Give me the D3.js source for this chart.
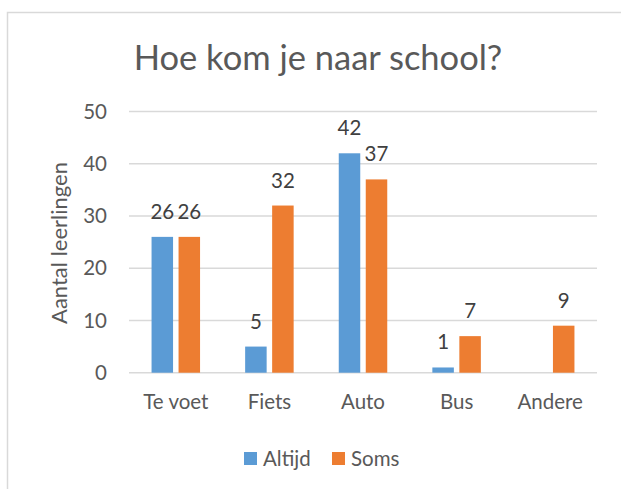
<!DOCTYPE html>
<html>
<head>
<meta charset="utf-8">
<script src="https://cdn.jsdelivr.net/npm/d3@7"></script>
<style>
  body { margin: 0; background: #fff; }
  svg text { font-family: Lato, "Open Sans", sans-serif; }
</style>
</head>
<body>
<div id="chart-area"></div>
<script>
// data
var categories = ["Te voet", "Fiets", "Auto", "Bus", "Andere"];
var series = ["Altijd", "Soms"];
var altijd = [26, 5, 42, 1, null];
var soms = [26, 32, 37, 7, 9];
var yTicks = [0, 10, 20, 30, 40, 50];

var colors = { Altijd: "#5B9BD5", Soms: "#ED7D31" };

var W = 621, H = 489;
var plot = { left: 129, right: 597, top: 111.5, bottom: 372.7 };
var fs = "20.5px";

var svg = d3.select("#chart-area")
    .append("svg")
        .attr("width", W)
        .attr("height", H);

// chart frame (only top and left edges fall inside the window)
svg.append("rect")
    .attr("x", 7.5).attr("y", 12.5)
    .attr("width", 700).attr("height", 600)
    .attr("fill", "none")
    .attr("stroke", "#D9D9D9")
    .attr("stroke-width", 1.5);

// Scales
var x = d3.scaleBand()
    .domain(categories)
    .range([plot.left, plot.right]);
var xSub = d3.scaleBand()
    .domain(series)
    .range([-24.25, 24.25])
    .paddingInner(0.2037);
var y = d3.scaleLinear()
    .domain([0, 50])
    .range([plot.bottom, plot.top]);

// gridlines
svg.append("g")
    .selectAll("line")
    .data(yTicks)
    .enter().append("line")
        .attr("x1", plot.left)
        .attr("x2", plot.right)
        .attr("y1", function(d){ return y(d); })
        .attr("y2", function(d){ return y(d); })
        .attr("stroke", "#D9D9D9")
        .attr("stroke-width", 1.4);

// Y Axis
var yAxisCall = d3.axisLeft(y)
    .tickValues(yTicks)
    .tickSize(0)
    .tickPadding(22);
var yAxis = svg.append("g")
    .attr("transform", "translate(" + plot.left + ",0)")
    .call(yAxisCall);
yAxis.select(".domain").remove();
yAxis.selectAll("text")
    .attr("font-family", "Lato, sans-serif")
    .attr("font-size", fs)
    .attr("fill", "#595959");

// X Axis
var xAxisCall = d3.axisBottom(x).tickSize(0).tickPadding(22);
var xAxis = svg.append("g")
    .attr("transform", "translate(0," + plot.bottom + ")")
    .call(xAxisCall);
xAxis.select(".domain").remove();
xAxis.selectAll("text")
    .attr("font-family", "Lato, sans-serif")
    .attr("font-size", fs)
    .attr("fill", "#595959");

// bars
var rows = [];
categories.forEach(function(c, i){
    rows.push({ cat: c, s: "Altijd", v: altijd[i] });
    rows.push({ cat: c, s: "Soms", v: soms[i] });
});
rows = rows.filter(function(d){ return d.v !== null; });

var barG = svg.append("g");
barG.selectAll("rect")
    .data(rows)
    .enter().append("rect")
        .attr("x", function(d){ return x(d.cat) + x.bandwidth() / 2 + xSub(d.s); })
        .attr("y", function(d){ return y(d.v); })
        .attr("width", xSub.bandwidth())
        .attr("height", function(d){ return y(0) - y(d.v); })
        .attr("fill", function(d){ return colors[d.s]; });

// value labels
barG.selectAll("text")
    .data(rows)
    .enter().append("text")
        .attr("x", function(d){ return x(d.cat) + x.bandwidth() / 2 + xSub(d.s) + xSub.bandwidth() / 2; })
        .attr("y", function(d){ return y(d.v) - 18; })
        .attr("text-anchor", "middle")
        .attr("font-size", fs)
        .attr("fill", "#404040")
        .text(function(d){ return d.v; });

// Title
svg.append("text")
    .attr("x", 318)
    .attr("y", 70)
    .attr("text-anchor", "middle")
    .attr("font-size", "34.5px")
    .attr("fill", "#595959")
    .text("Hoe kom je naar school?");

// Y label
svg.append("text")
    .attr("transform", "rotate(-90)")
    .attr("x", -243)
    .attr("y", 67)
    .attr("text-anchor", "middle")
    .attr("font-size", "22px")
    .attr("fill", "#595959")
    .text("Aantal leerlingen");

// Legend
var legendX = { Altijd: 244, Soms: 332 };
var legend = svg.append("g");
series.forEach(function(s){
    legend.append("rect")
        .attr("x", legendX[s])
        .attr("y", 452)
        .attr("width", 13)
        .attr("height", 13)
        .attr("fill", colors[s]);
    legend.append("text")
        .attr("x", legendX[s] + 19)
        .attr("y", 466)
        .attr("font-size", fs)
        .attr("fill", "#595959")
        .text(s);
});
</script>
</body>
</html>
